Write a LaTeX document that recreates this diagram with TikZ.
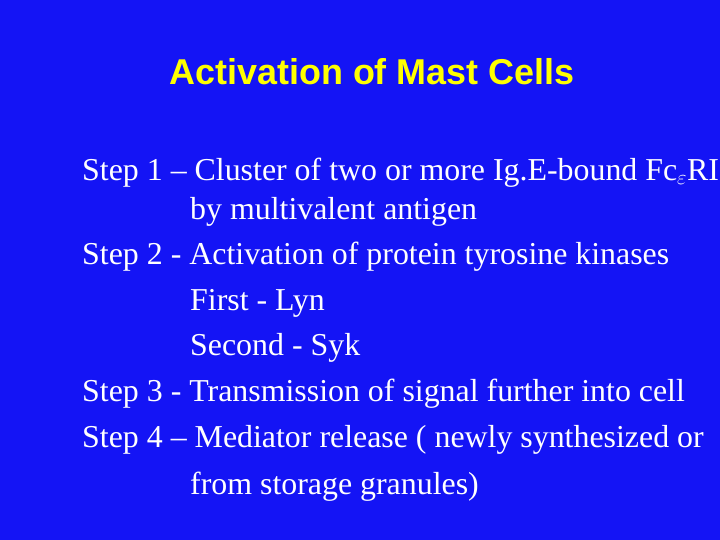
\documentclass[tikz,border=0pt]{standalone}
\usepackage{fontspec}
\setmainfont{Liberation Serif}
\newfontfamily\titlefont{Liberation Sans}
\definecolor{slideblue}{RGB}{20,20,245}
\definecolor{slideyellow}{RGB}{255,255,0}
\begin{document}
\begin{tikzpicture}[x=1bp,y=1bp,
  body/.style={anchor=base west,inner sep=0,text=white,font=\fontsize{32}{34}\selectfont},
  ttl/.style={anchor=base,inner sep=0,text=slideyellow,font=\titlefont\bfseries\fontsize{28}{32}\selectfont}]
\fill[slideblue] (0,0) rectangle (720,-540);
\useasboundingbox (0,0) rectangle (720,-540);
\node[ttl,font=\titlefont\bfseries\fontsize{28}{32}\selectfont] (t) at (372,-85) {\resizebox{405bp}{!}{Activation of Mast Cells}};
\node[body] (l1) at (82,-181) {Step 1 -- Cluster of two or more Ig.E-bound Fc$_{\varepsilon}$RI};
\node[body] (l2) at (190,-220) {by multivalent antigen};
\node[body] (l3) at (82,-265) {Step 2 - Activation of protein tyrosine kinases};
\node[body] (l4) at (190,-310) {First - Lyn};
\node[body] (l5) at (190,-355) {Second - Syk};
\node[body] (l6) at (82,-401) {Step 3 - Transmission of signal further into cell};
\node[body] (l7) at (82,-447) {Step 4 -- Mediator release ( newly synthesized or};
\node[body] (l8) at (190,-494) {from storage granules)};
\end{tikzpicture}
\end{document}
